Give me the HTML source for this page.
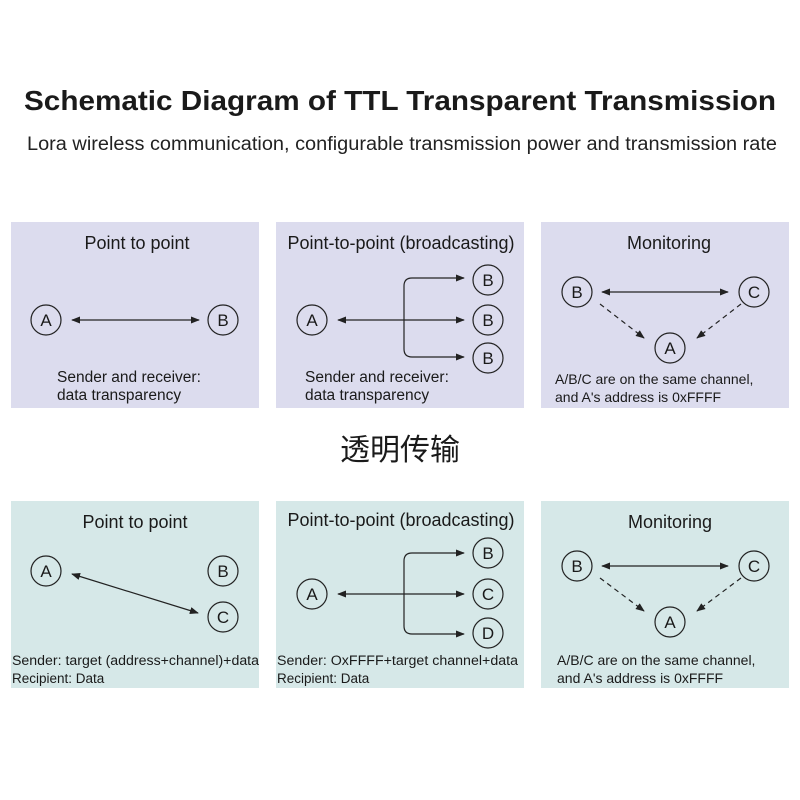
<!DOCTYPE html>
<html><head><meta charset="utf-8"><style>html,body{margin:0;padding:0;background:#fff}svg{display:block}</style></head><body>
<svg width="800" height="800" viewBox="0 0 800 800" xmlns="http://www.w3.org/2000/svg" font-family="Liberation Sans, sans-serif" fill="#1a1a1a">
<defs>
<marker id="ah" viewBox="0 0 10 10" refX="9" refY="5" markerWidth="9" markerHeight="9" markerUnits="userSpaceOnUse" orient="auto-start-reverse"><path d="M0,1 L10,5 L0,9 z" fill="#222"/></marker>
</defs>
<text x="400" y="110" text-anchor="middle" font-size="28" font-weight="bold" textLength="752" lengthAdjust="spacingAndGlyphs">Schematic Diagram of TTL Transparent Transmission</text>
<text x="402" y="150" text-anchor="middle" font-size="19" fill="#222" textLength="750" lengthAdjust="spacingAndGlyphs">Lora wireless communication, configurable transmission power and transmission rate</text>

<g fill="#dcdcee">
<rect x="11" y="222" width="248" height="186"/><rect x="276" y="222" width="248" height="186"/><rect x="541" y="222" width="248" height="186"/>
</g>
<g fill="#d6e8e8">
<rect x="11" y="501" width="248" height="187"/><rect x="276" y="501" width="248" height="187"/><rect x="541" y="501" width="248" height="187"/>
</g>

<text x="400" y="460" text-anchor="middle" font-size="30" font-family="Liberation Sans, Noto Sans CJK SC, sans-serif">透明传输</text>

<g stroke="#222" stroke-width="1.2" fill="none">
<!-- circles -->
<circle cx="46" cy="320" r="15"/><circle cx="223" cy="320" r="15"/>
<circle cx="312" cy="320" r="15"/><circle cx="488" cy="280" r="15"/><circle cx="488" cy="320" r="15"/><circle cx="488" cy="358" r="15"/>
<circle cx="577" cy="292" r="15"/><circle cx="754" cy="292" r="15"/><circle cx="670" cy="348" r="15"/>
<circle cx="46" cy="571" r="15"/><circle cx="223" cy="571" r="15"/><circle cx="223" cy="617" r="15"/>
<circle cx="312" cy="594" r="15"/><circle cx="488" cy="553" r="15"/><circle cx="488" cy="594" r="15"/><circle cx="488" cy="633" r="15"/>
<circle cx="577" cy="566" r="15"/><circle cx="754" cy="566" r="15"/><circle cx="670" cy="622" r="15"/>
<!-- connectors -->
<line x1="72" y1="320" x2="199" y2="320" marker-start="url(#ah)" marker-end="url(#ah)"/>
<line x1="338" y1="320" x2="464" y2="320" marker-start="url(#ah)" marker-end="url(#ah)"/>
<path d="M464,278 H412 Q404,278 404,286 V349 Q404,357 412,357 H464" marker-start="url(#ah)" marker-end="url(#ah)"/>
<line x1="602" y1="292" x2="728" y2="292" marker-start="url(#ah)" marker-end="url(#ah)"/>
<line x1="600" y1="304" x2="644" y2="338" stroke-dasharray="5,4" marker-end="url(#ah)"/>
<line x1="741" y1="304" x2="697" y2="338" stroke-dasharray="5,4" marker-end="url(#ah)"/>

<line x1="72" y1="574" x2="198" y2="613" marker-start="url(#ah)" marker-end="url(#ah)"/>
<line x1="338" y1="594" x2="464" y2="594" marker-start="url(#ah)" marker-end="url(#ah)"/>
<path d="M464,553 H412 Q404,553 404,561 V626 Q404,634 412,634 H464" marker-start="url(#ah)" marker-end="url(#ah)"/>
<line x1="602" y1="566" x2="728" y2="566" marker-start="url(#ah)" marker-end="url(#ah)"/>
<line x1="600" y1="578" x2="644" y2="611" stroke-dasharray="5,4" marker-end="url(#ah)"/>
<line x1="741" y1="578" x2="697" y2="611" stroke-dasharray="5,4" marker-end="url(#ah)"/>
</g>

<g font-size="17" text-anchor="middle">
<text x="46" y="326">A</text><text x="223" y="326">B</text>
<text x="312" y="326">A</text><text x="488" y="286">B</text><text x="488" y="326">B</text><text x="488" y="364">B</text>
<text x="577" y="298">B</text><text x="754" y="298">C</text><text x="670" y="354">A</text>
<text x="46" y="577">A</text><text x="223" y="577">B</text><text x="223" y="623">C</text>
<text x="312" y="600">A</text><text x="488" y="559">B</text><text x="488" y="600">C</text><text x="488" y="639">D</text>
<text x="577" y="572">B</text><text x="754" y="572">C</text><text x="670" y="628">A</text>
</g>

<g font-size="18" text-anchor="middle">
<text x="137" y="249">Point to point</text>
<text x="401" y="249">Point-to-point (broadcasting)</text>
<text x="669" y="249">Monitoring</text>
<text x="135" y="528">Point to point</text>
<text x="401" y="526">Point-to-point (broadcasting)</text>
<text x="670" y="528">Monitoring</text>
</g>

<g font-size="15.5">
<text x="57" y="382">Sender and receiver:</text><text x="57" y="400">data transparency</text>
<text x="305" y="382">Sender and receiver:</text><text x="305" y="400">data transparency</text>
</g>
<g font-size="14">
<text x="555" y="384">A/B/C are on the same channel,</text><text x="555" y="402">and A's address is 0xFFFF</text>
<text x="557" y="665">A/B/C are on the same channel,</text><text x="557" y="683">and A's address is 0xFFFF</text>
</g>
<g font-size="13.5">
<text x="12" y="665" textLength="247" lengthAdjust="spacingAndGlyphs">Sender: target (address+channel)+data</text><text x="12" y="683">Recipient: Data</text>
<text x="277" y="665" textLength="241" lengthAdjust="spacingAndGlyphs">Sender: OxFFFF+target channel+data</text><text x="277" y="683">Recipient: Data</text>
</g>
</svg>
</body></html>
